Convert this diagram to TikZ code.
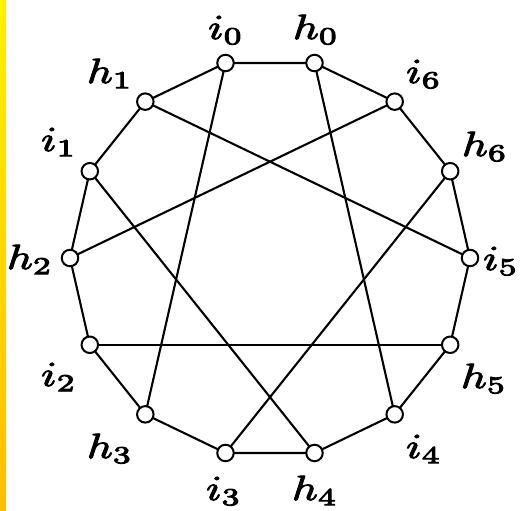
\documentclass[tikz,border=0pt]{standalone}
\usepackage{graphicx}
\usetikzlibrary{calc}
\newcommand{\biglbl}[1]{\special{pdf:literal direct 2 Tr 0.25 w}\scalebox{4.5}[3.5]{$#1$}\special{pdf:literal direct 0 Tr}}
\tikzset{
  vtx/.style={circle,draw,fill=white,line width=2pt,minimum size=16.5pt,inner sep=0pt},
  lbl/.style={inner sep=0pt,anchor=base},
  edg/.style={line width=2.1pt}
}
\begin{document}
\begin{tikzpicture}[x=1pt,y=-1pt]
\useasboundingbox (0,0) rectangle (520,511);
\shade[top color={rgb,255:red,255;green,240;blue,0},bottom color={rgb,255:red,255;green,190;blue,0}] (0,0) rectangle (6,511);
\coordinate (c) at (270,258);
\foreach \n/\a in {i0/102.857,h0/77.143,i6/51.429,h6/25.714,i5/0,h5/-25.714,i4/-51.429,h4/-77.143,i3/-102.857,h3/-128.571,i2/-154.286,h2/180,i1/154.286,h1/128.571}{
  \coordinate (p\n) at ($(c)+({200*cos(\a)},{-200*sin(\a)})$);
}
% rim
\draw[edg] (pi0)--(ph0)--(pi6)--(ph6)--(pi5)--(ph5)--(pi4)--(ph4)--(pi3)--(ph3)--(pi2)--(ph2)--(pi1)--(ph1)--cycle;
% chords
\draw[edg] (ph1)--(pi5);
\draw[edg] (pi0)--(ph3);
\draw[edg] (ph0)--(pi4);
\draw[edg] (pi6)--(ph2);
\draw[edg] (ph6)--(pi3);
\draw[edg] (pi1)--(ph4);
\draw[edg] (pi2)--(ph5);
\foreach \n in {i0,h0,i6,h6,i5,h5,i4,h4,i3,h3,i2,h2,i1,h1}{
  \node[vtx] (\n) at (p\n) {};
}
\node[lbl] (Li0) at (226,39) {\biglbl{i_0}};
\node[lbl] (Lh0) at (316,39) {\biglbl{h_0}};
\node[lbl] (Li6) at (424,83) {\biglbl{i_6}};
\node[lbl] (Lh6) at (485,156) {\biglbl{h_6}};
\node[lbl] (Li5) at (501,270) {\biglbl{i_5}};
\node[lbl] (Lh5) at (484,388) {\biglbl{h_5}};
\node[lbl] (Li4) at (424,458) {\biglbl{i_4}};
\node[lbl] (Lh4) at (315,500) {\biglbl{h_4}};
\node[lbl] (Li3) at (224,500) {\biglbl{i_3}};
\node[lbl] (Lh3) at (110,458) {\biglbl{h_3}};
\node[lbl] (Li2) at (59,386) {\biglbl{i_2}};
\node[lbl] (Lh2) at (30,269) {\biglbl{h_2}};
\node[lbl] (Li1) at (59,151) {\biglbl{i_1}};
\node[lbl] (Lh1) at (110,83) {\biglbl{h_1}};
\end{tikzpicture}
\end{document}
